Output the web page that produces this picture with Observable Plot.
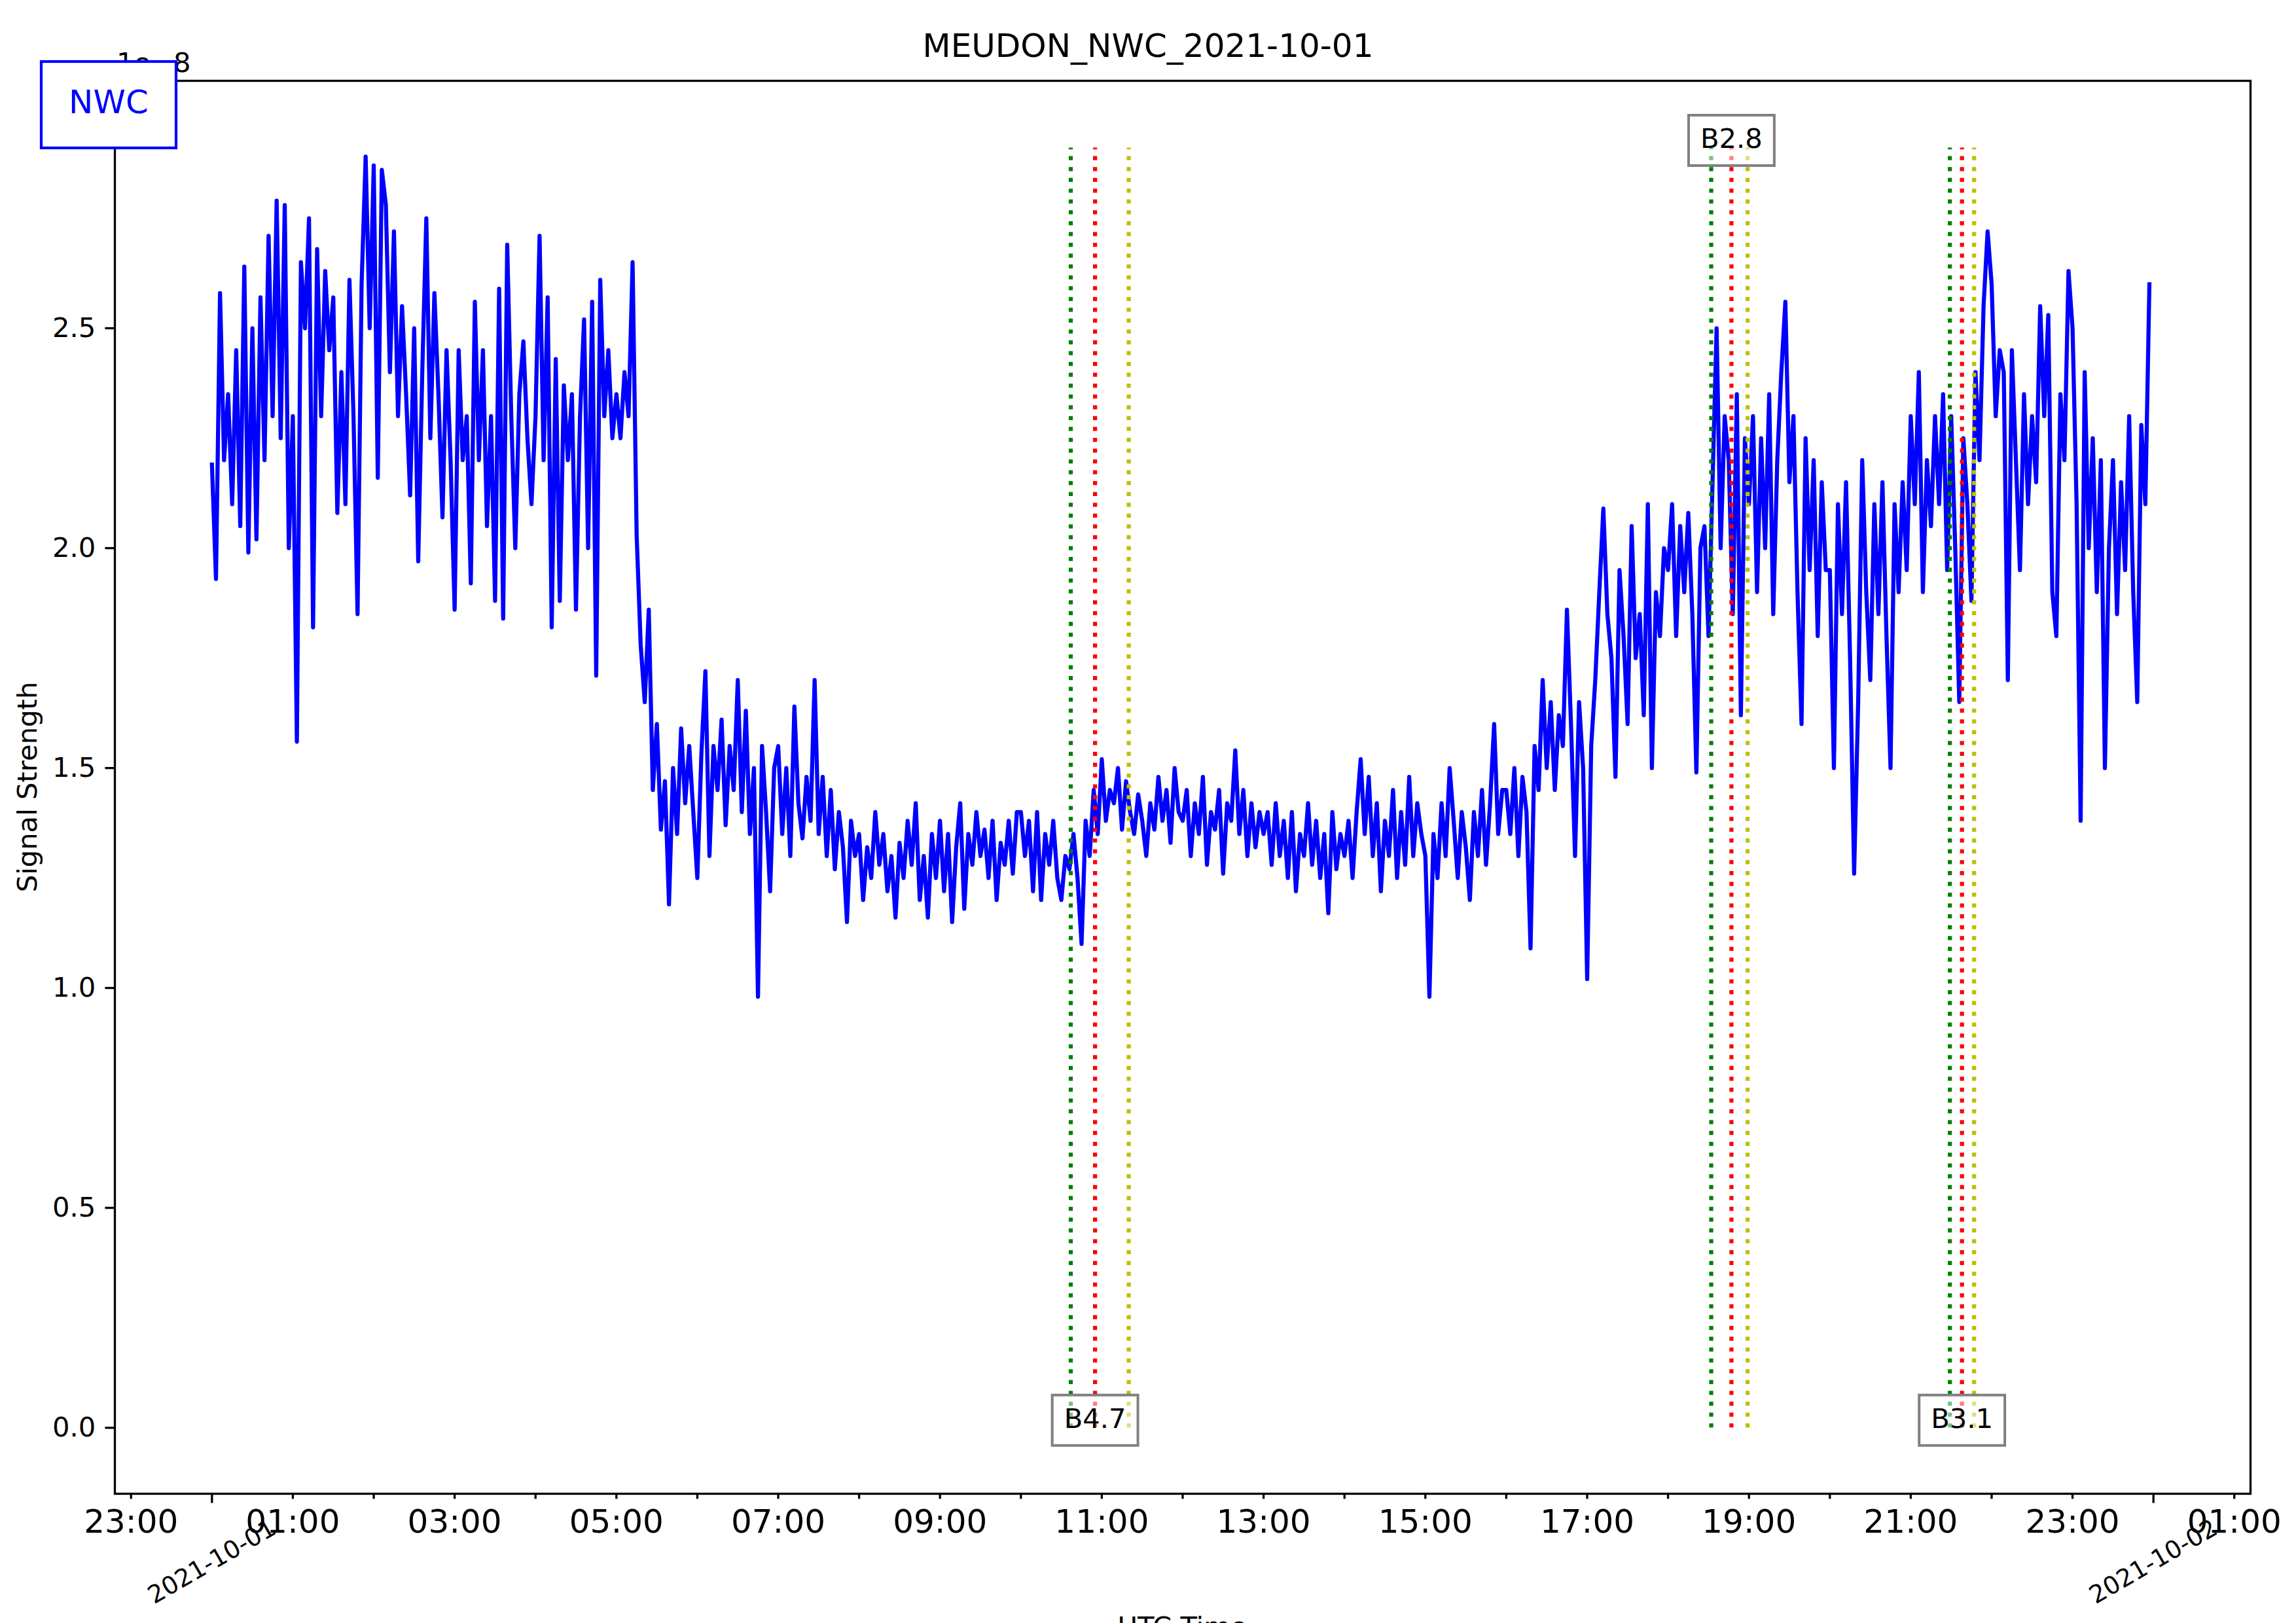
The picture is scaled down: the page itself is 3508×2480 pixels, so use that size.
<!DOCTYPE html>
<html>
<head>
<meta charset="utf-8">
<script src="https://cdn.jsdelivr.net/npm/d3@7"></script>
<script src="https://cdn.jsdelivr.net/npm/@observablehq/plot@0.6"></script>
<style>
  html, body { margin: 0; padding: 0; background: white; overflow: hidden; }
  #chart svg { display: block; }
</style>
</head>
<body>
<div id="chart"></div>
<script>
// ---- Data (signal strength, units of 1e-8), one value every 3 minutes, per UTC hour ----
const h00 = [2.19,1.93,2.58,2.20,2.35,2.10,2.45,2.05,2.64,1.99,2.50,2.02,2.57,2.20,2.71,2.30,2.79,2.25,2.78,2.00];
const h01 = [2.30,1.56,2.65,2.50,2.75,1.82,2.68,2.30,2.63,2.45,2.57,2.08,2.40,2.10,2.61,2.30,1.85,2.60,2.89,2.50];
const h02 = [2.87,2.16,2.86,2.78,2.40,2.72,2.30,2.55,2.35,2.12,2.50,1.97,2.40,2.75,2.25,2.58,2.35,2.07,2.45,2.20];
const h03 = [1.86,2.45,2.20,2.30,1.92,2.56,2.20,2.45,2.05,2.30,1.88,2.59,1.84,2.69,2.30,2.00,2.35,2.47,2.25,2.10];
const h04 = [2.30,2.71,2.20,2.57,1.82,2.43,1.88,2.37,2.20,2.35,1.86,2.30,2.52,2.00,2.56,1.71,2.61,2.30,2.45,2.25];
const h05 = [2.35,2.25,2.40,2.30,2.65,2.03,1.78,1.65,1.86,1.45,1.60,1.36,1.47,1.19,1.50,1.35,1.59,1.42,1.55,1.40];
const h06 = [1.25,1.53,1.72,1.30,1.55,1.45,1.61,1.37,1.55,1.45,1.70,1.40,1.63,1.35,1.50,0.98,1.55,1.40,1.22,1.50];
const h07 = [1.55,1.35,1.50,1.30,1.64,1.42,1.34,1.48,1.38,1.70,1.35,1.48,1.30,1.45,1.27,1.40,1.32,1.15,1.38,1.30];
const h08 = [1.35,1.20,1.32,1.25,1.40,1.28,1.35,1.22,1.30,1.16,1.33,1.25,1.38,1.28,1.42,1.20,1.30,1.16,1.35,1.25];
const h09 = [1.38,1.22,1.35,1.15,1.32,1.42,1.18,1.35,1.28,1.40,1.30,1.36,1.25,1.38,1.20,1.33,1.28,1.38,1.26,1.40];
const h10 = [1.40,1.30,1.38,1.22,1.40,1.20,1.35,1.28,1.38,1.25,1.20,1.30,1.27,1.35,1.25,1.10,1.38,1.30,1.45,1.35];
const h11 = [1.52,1.38,1.45,1.42,1.50,1.36,1.47,1.40,1.35,1.44,1.38,1.30,1.42,1.36,1.48,1.38,1.45,1.33,1.50,1.40];
const h12 = [1.38,1.45,1.30,1.42,1.35,1.48,1.28,1.40,1.36,1.45,1.26,1.42,1.38,1.54,1.35,1.45,1.30,1.42,1.32,1.40];
const h13 = [1.35,1.40,1.28,1.42,1.30,1.38,1.25,1.40,1.22,1.35,1.30,1.42,1.28,1.38,1.25,1.35,1.17,1.40,1.27,1.35];
const h14 = [1.30,1.38,1.25,1.40,1.52,1.35,1.48,1.30,1.42,1.22,1.38,1.30,1.45,1.25,1.40,1.28,1.48,1.30,1.42,1.35];
const h15 = [1.30,0.98,1.35,1.25,1.42,1.30,1.50,1.38,1.25,1.40,1.32,1.20,1.40,1.30,1.45,1.28,1.42,1.60,1.35,1.45];
const h16 = [1.45,1.35,1.50,1.30,1.48,1.40,1.09,1.55,1.45,1.70,1.50,1.65,1.45,1.62,1.55,1.86,1.60,1.30,1.65,1.50];
const h17 = [1.02,1.55,1.70,1.90,2.09,1.85,1.75,1.48,1.95,1.80,1.60,2.05,1.75,1.85,1.62,2.10,1.50,1.90,1.80,2.00];
const h18 = [1.95,2.10,1.80,2.05,1.90,2.08,1.85,1.49,2.00,2.05,1.80,2.15,2.50,2.00,2.30,2.20,1.85,2.35,1.62,2.25];
const h19 = [2.10,2.30,1.90,2.25,2.00,2.35,1.85,2.20,2.40,2.56,2.15,2.30,1.90,1.60,2.25,1.95,2.20,1.80,2.15,1.95];
const h20 = [1.95,1.50,2.10,1.85,2.15,1.75,1.26,1.65,2.20,1.90,1.70,2.10,1.85,2.15,1.80,1.50,2.10,1.90,2.15,1.95];
const h21 = [2.30,2.10,2.40,1.90,2.20,2.05,2.30,2.10,2.35,1.95,2.30,2.00,1.65,2.25,2.10,1.88,2.40,2.20,2.55,2.72];
const h22 = [2.60,2.30,2.45,2.40,1.70,2.45,2.20,1.95,2.35,2.10,2.30,2.15,2.55,2.30,2.53,1.90,1.80,2.35,2.20,2.63];
const h23 = [2.50,2.10,1.38,2.40,2.00,2.25,1.90,2.20,1.50,2.00,2.20,1.85,2.15,1.95,2.30,1.90,1.65,2.28,2.10,2.60];
const hourBlocks = [h00,h01,h02,h03,h04,h05,h06,h07,h08,h09,h10,h11,h12,h13,h14,h15,h16,h17,h18,h19,h20,h21,h22,h23];
const dayStart = "2021-10-01T00:00:00Z";
const dayEnd = "2021-10-02T00:00:00Z";
const sampleMinutes = 3;

// Flares (GOES class), start / peak / end times (UTC)
const flareClass = ["B4.7", "B2.8", "B3.1"];
const flareStart = ["2021-10-01T10:37Z", "2021-10-01T18:32Z", "2021-10-01T21:29Z"];
const flarePeak  = ["2021-10-01T10:55Z", "2021-10-01T18:47Z", "2021-10-01T21:38Z"];
const flareEnd   = ["2021-10-01T11:20Z", "2021-10-01T18:59Z", "2021-10-01T21:47Z"];
const flareLabelY = [0, 2.91, 0];
const flareTop = 2.91;

const yTicks = [0, 0.5, 1.0, 1.5, 2.0, 2.5];
const dateTicks = ["2021-10-01T00:00Z", "2021-10-02T00:00Z"];
const dateTickLabels = ["2021-10-01", "2021-10-02"];

// ---- Build tables ----
const t0 = new Date(dayStart).getTime();
const t1 = new Date(dayEnd).getTime();
const series = hourBlocks.flat().map((v, i) => ({time: new Date(t0 + i * sampleMinutes * 60000), value: v}));
const flareRules = [];
flareClass.forEach((c, i) => {
  flareRules.push({time: new Date(flareStart[i]), color: "#008000"});
  flareRules.push({time: new Date(flarePeak[i]), color: "#ff0000"});
  flareRules.push({time: new Date(flareEnd[i]), color: "#bfbf00"});
});
const flareLabels = flareClass.map((c, i) => ({time: new Date(flarePeak[i]), y: flareLabelY[i], label: c}));
const dateTickData = dateTicks.map((d, i) => ({time: new Date(d), label: dateTickLabels[i]}));

const pad = (t1 - t0) * 0.05;
const xDomain = [new Date(t0 - pad), new Date(t1 + pad)];
const hourTicks = d3.utcHour.range(new Date(t0 - 3600e3), new Date(t1 + 3600e3 + 1))
  .filter(d => d.getUTCHours() !== 0);
const midnightTicks = dateTickData.map(d => d.time);

const W = 3508, H = 2480;
const mL = 175, mR = 70, mT = 123, mB = 198;

const chart = Plot.plot({
  width: W, height: H,
  marginLeft: mL, marginRight: mR, marginTop: mT, marginBottom: mB,
  style: {fontFamily: "DejaVu Sans", fontSize: "41.7px", background: "white", color: "black", overflow: "visible"},
  x: {type: "utc", domain: xDomain},
  y: {domain: [-0.15, 3.0625]},
  marks: [
    Plot.lineY(series, {x: "time", y: "value", stroke: "#0000ff", strokeWidth: 6.25, strokeLinejoin: "round", strokeLinecap: "square"}),
    Plot.ruleX(flareRules, {x: "time", y1: 0, y2: flareTop, stroke: "color", strokeWidth: 6.25, strokeDasharray: "6.25,10.3"}),
    Plot.text(flareLabels, {x: "time", y: "y", text: "label", textAnchor: "middle", lineAnchor: "bottom", fontSize: 41.7, fill: "black"}),
    Plot.axisY({ticks: yTicks, tickFormat: d => d.toFixed(1), tickSize: 14.6, tickPadding: 14.6, fontSize: 41.7, strokeWidth: 3.3, label: null}),
    Plot.axisX({ticks: hourTicks, tickFormat: d => (d.getUTCHours() % 2 === 1 ? String(d.getUTCHours()).padStart(2, "0") + ":00" : ""),
      tickSize: 8.3, tickPadding: 16, fontSize: 50, strokeWidth: 3.3, label: null}),
    Plot.axisX({ticks: midnightTicks, tickFormat: () => "", tickSize: 14.6, strokeWidth: 3.3, label: null}),
    Plot.text(dateTickData, {x: "time", frameAnchor: "bottom", dy: 104, text: "label", rotate: -30, textAnchor: "middle", lineAnchor: "middle", fontSize: 37.5, fill: "black"}),
    Plot.frame({stroke: "black", strokeWidth: 3.3})
  ]
});
document.getElementById("chart").appendChild(chart);

const svg = d3.select(chart);

// boxes behind flare labels
svg.selectAll("text").filter(function() { return flareClass.includes(this.textContent); }).each(function() {
  const bb = this.getBBox();
  const r = document.createElementNS("http://www.w3.org/2000/svg", "rect");
  r.setAttribute("x", bb.x - 18);
  r.setAttribute("y", bb.y - 11);
  r.setAttribute("width", bb.width + 36);
  r.setAttribute("height", bb.height + 28);
  r.setAttribute("fill", "white");
  r.setAttribute("fill-opacity", "0.5");
  r.setAttribute("stroke", "#808080");
  r.setAttribute("stroke-width", "4");
  const tr = this.getAttribute("transform");
  if (tr) r.setAttribute("transform", tr);
  this.parentNode.insertBefore(r, this);
});

// Title
svg.append("text").attr("x", W / 2).attr("y", 87).attr("text-anchor", "middle")
  .attr("font-family", "DejaVu Sans").attr("font-size", 50).attr("fill", "black")
  .text("MEUDON_NWC_2021-10-01");
// Offset text
svg.append("text").attr("x", 178).attr("y", 110).attr("text-anchor", "start")
  .attr("font-family", "DejaVu Sans").attr("font-size", 41.7).attr("fill", "black")
  .text("1e\u22128");
// Y label
svg.append("text").attr("transform", `translate(56,${(mT + (H - mB)) / 2}) rotate(-90)`)
  .attr("text-anchor", "middle").attr("font-family", "DejaVu Sans").attr("font-size", 41.7).attr("fill", "black")
  .text("Signal Strength");
// X label (partly outside the figure, as in the original)
svg.append("text").attr("x", (mL + (W - mR)) / 2).attr("y", 2500).attr("text-anchor", "middle")
  .attr("font-family", "DejaVu Sans").attr("font-size", 41.7).attr("fill", "black")
  .text("UTC Time");
// NWC box
svg.append("rect").attr("x", 63).attr("y", 94).attr("width", 206).attr("height", 132)
  .attr("fill", "white").attr("stroke", "#0000ff").attr("stroke-width", 4.2);
svg.append("text").attr("x", 166).attr("y", 173).attr("text-anchor", "middle")
  .attr("font-family", "DejaVu Sans").attr("font-size", 50).attr("fill", "#0000ff")
  .text("NWC");
</script>
</body>
</html>
